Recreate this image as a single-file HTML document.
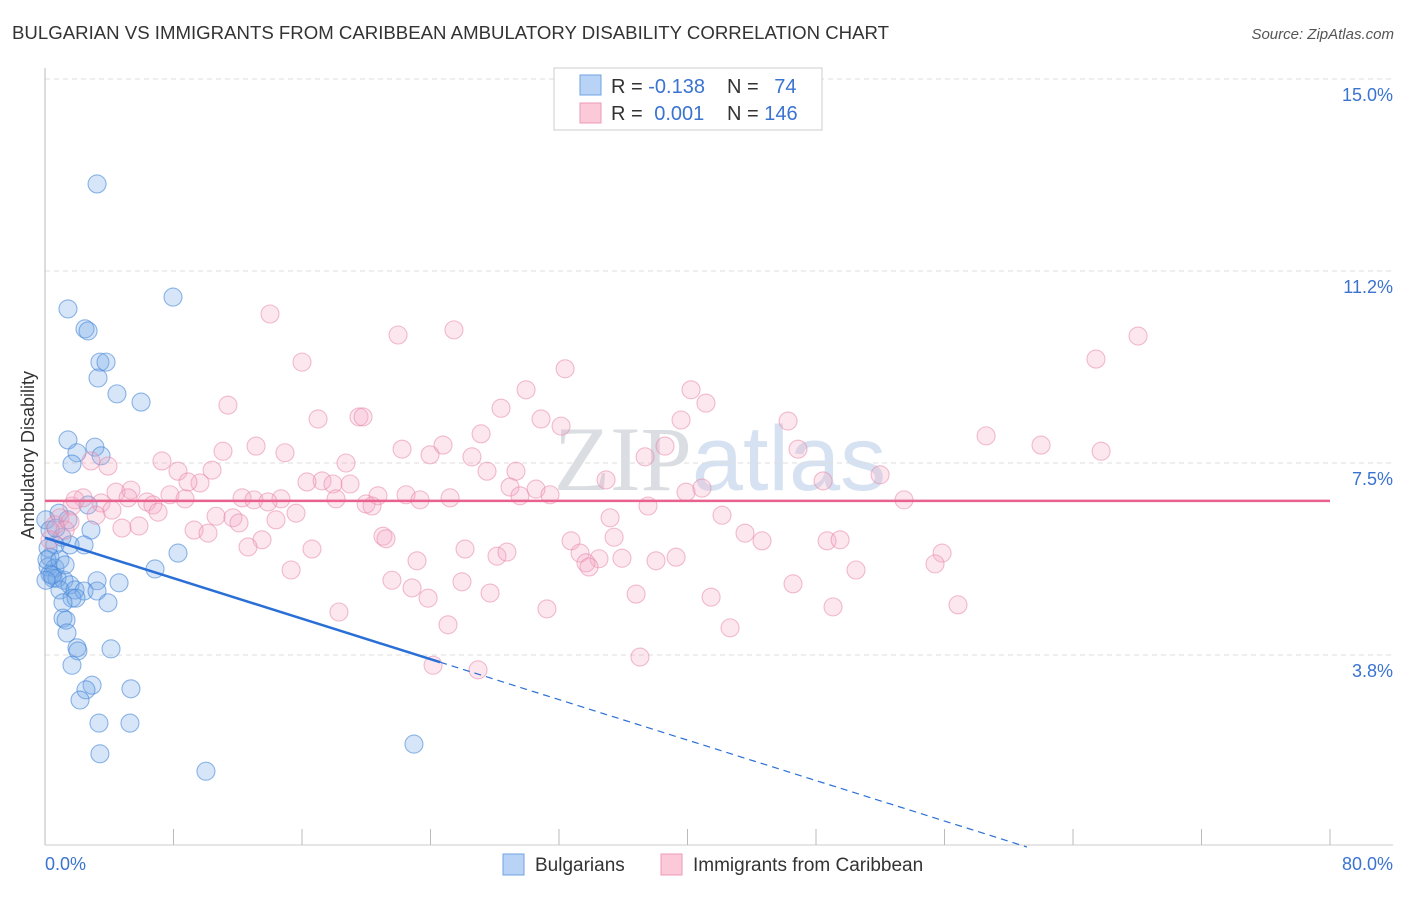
<!DOCTYPE html>
<html><head><meta charset="utf-8"><style>
body{margin:0;background:#fff;font-family:"Liberation Sans",sans-serif;}
svg text{font-family:"Liberation Sans",sans-serif;}
</style></head><body>
<svg id="chart" width="1406" height="892" xmlns="http://www.w3.org/2000/svg">
<text x="12" y="39" font-size="18" fill="#333" textLength="877" lengthAdjust="spacingAndGlyphs">BULGARIAN VS IMMIGRANTS FROM CARIBBEAN AMBULATORY DISABILITY CORRELATION CHART</text>
<text x="1394" y="39" font-size="15" fill="#555" font-style="italic" text-anchor="end">Source: ZipAtlas.com</text>
<text x="720" y="490" font-size="92" text-anchor="middle" fill="#e4e7ec"><tspan font-family="Liberation Serif" fill="#dadde2">ZIP</tspan><tspan fill="#d6e2f2">atlas</tspan></text>
<g id="grid"></g>
<g id="axes"></g>
<g id="blue"></g>
<g id="pink"></g>
<g id="trends"></g>
<text transform="translate(34,455) rotate(-90)" font-size="18" fill="#333" text-anchor="middle">Ambulatory Disability</text>
<g>
<rect x="554" y="68" width="268" height="62" fill="#fff" stroke="#ccc"/>
<rect x="580" y="75" width="21" height="20" fill="#b8d3f5" stroke="#6fa3e3"/>
<rect x="580" y="103" width="21" height="20" fill="#fbc9d8" stroke="#ee9ab5"/>
<text x="611" y="93" font-size="20" fill="#333">R = <tspan fill="#3a73d0">-0.138</tspan></text>
<text x="727" y="93" font-size="20" fill="#333">N = <tspan fill="#3a73d0" dx="10">74</tspan></text>
<text x="611" y="120" font-size="20" fill="#333">R = <tspan fill="#3a73d0" dx="6">0.001</tspan></text>
<text x="727" y="120" font-size="20" fill="#333">N = <tspan fill="#3a73d0">146</tspan></text>
</g>
<g>
<rect x="503" y="854" width="21" height="21" fill="#b8d3f5" stroke="#6fa3e3"/>
<text x="535" y="871" font-size="19" fill="#333">Bulgarians</text>
<rect x="661" y="854" width="21" height="21" fill="#fbc9d8" stroke="#ee9ab5"/>
<text x="693" y="871" font-size="19" fill="#333">Immigrants from Caribbean</text>
</g>
</svg>
<script>
const yTicks=[3.75,7.5,11.25,15];
const yTickLabels=["3.8%","7.5%","11.2%","15.0%"];
const xTickLabels=["0.0%","80.0%"];
const blueX=[3.24,7.97,1.43,2.49,2.68,3.42,3.80,3.30,4.48,5.98,1.43,3.11,1.99,3.49,1.68,0.87,1.43,2.68,2.86,1.06,0.62,1.56,2.43,0.19,0.31,8.28,0.19,0.62,0.31,0.50,0.75,1.18,1.56,6.85,3.24,4.61,0.93,1.87,2.43,3.24,1.68,1.93,1.12,3.92,1.12,1.31,1.37,1.99,2.05,1.68,4.11,2.93,2.55,5.35,2.18,3.36,5.29,3.42,10.02,22.97,0.05,0.31,0.68,0.12,0.44,0.06,0.93,1.25];
const blueY=[12.95,10.74,10.51,10.12,10.08,9.47,9.47,9.16,8.85,8.69,7.95,7.81,7.70,7.64,7.48,6.52,6.39,6.68,6.19,6.05,5.90,5.90,5.90,5.84,5.66,5.74,5.47,5.45,5.33,5.25,5.25,5.21,5.12,5.43,5.20,5.16,5.02,5.02,5.00,5.00,4.86,4.86,4.77,4.77,4.47,4.43,4.18,3.89,3.83,3.55,3.87,3.16,3.07,3.09,2.87,2.42,2.42,1.82,1.48,2.01,6.39,6.19,6.23,5.61,5.31,5.21,5.61,5.51];
const pinkX=[14.01,25.46,21.98,68.05,65.43,16.00,32.38,29.95,40.22,11.39,41.15,28.39,19.55,17.00,19.80,30.88,39.60,46.26,32.13,27.15,58.59,62.01,65.75,24.78,13.14,11.08,14.94,22.23,38.60,46.88,23.97,2.86,3.92,7.28,18.74,26.58,37.36,8.28,10.40,27.52,29.32,34.93,51.99,9.65,8.90,17.25,17.93,16.31,18.99,28.95,30.57,48.44,4.42,5.35,6.35,7.78,8.72,12.27,13.01,14.69,20.73,22.48,25.22,29.57,31.44,39.91,40.90,53.48,2.37,3.49,5.17,6.72,7.04,10.65,11.70,13.88,15.63,18.12,19.99,20.36,23.35,37.54,42.15,14.38,3.18,4.17,1.68,4.79,5.85,9.28,10.15,12.08,35.18,43.58,44.64,32.75,21.04,21.23,13.51,12.64,16.62,26.15,33.31,34.49,35.43,48.69,49.50,55.85,39.29,38.04,33.68,33.87,28.14,28.76,23.16,15.32,55.41,50.49,35.92,21.60,25.96,22.85,27.71,23.85,36.80,41.47,46.57,18.30,31.25,49.06,56.84,25.09,42.65,37.04,24.16,26.96,0.93,1.56,0.62,1.25,1.87,0.31];
const pinkY=[10.41,10.10,10.00,9.98,9.53,9.47,9.34,8.93,8.93,8.63,8.67,8.57,8.40,8.36,8.40,8.36,8.34,8.32,8.22,8.07,8.03,7.85,7.73,7.85,7.83,7.73,7.70,7.77,7.83,7.77,7.66,7.54,7.44,7.54,7.50,7.62,7.62,7.34,7.36,7.34,7.34,7.17,7.27,7.11,7.13,7.15,7.09,7.13,7.09,7.03,6.99,7.15,6.93,6.97,6.74,6.88,6.80,6.82,6.78,6.80,6.86,6.88,6.82,6.86,6.88,6.93,7.01,6.78,6.82,6.72,6.82,6.68,6.54,6.46,6.43,6.74,6.52,6.80,6.70,6.66,6.78,6.66,6.48,6.39,6.48,6.58,6.66,6.23,6.27,6.19,6.13,6.33,6.43,6.13,5.98,5.98,6.07,6.02,6.00,5.86,5.82,5.82,5.74,5.63,6.05,5.98,6.00,5.74,5.66,5.59,5.55,5.47,5.68,5.76,5.59,5.41,5.53,5.41,5.64,5.21,5.18,5.06,4.96,4.86,4.94,4.88,5.14,4.59,4.65,4.69,4.73,4.34,4.28,3.71,3.55,3.46,6.43,6.35,6.29,6.19,6.78,6.00];
const blueTrend=[6.04,-0.0988];
const pinkTrend=[6.76,0.0];
const NS="http://www.w3.org/2000/svg";
const X0=45,X1=1330,Y0=847;
function xs(v){return X0+v/80*(X1-X0);}
function ys(v){return Y0-v*51.2;}
function mk(tag,attrs,parent){const e=document.createElementNS(NS,tag);for(const k in attrs)e.setAttribute(k,attrs[k]);parent.appendChild(e);return e;}
const grid=document.getElementById('grid'),axes=document.getElementById('axes');
yTicks.forEach((t,i)=>{
  const l=mk('line',{x1:X0,x2:1393,y1:ys(t),y2:ys(t),stroke:'#ddd','stroke-dasharray':'5,4'},grid);
  
  
  const tx=mk('text',{x:1393,y:ys(t)+22,'font-size':18,fill:'#3a73d0','text-anchor':'end'},axes);
  tx.textContent=yTickLabels[i];
  
  
});
const ax=mk('line',{x1:X0,x2:X0,y1:68,y2:845,stroke:'#bbb'},axes);


const bx=mk('line',{x1:X0,x2:1393,y1:845,y2:845,stroke:'#ccc'},axes);


for(let i=0;i<=10;i++){const v=i*8;
  const t=mk('line',{x1:xs(v),x2:xs(v),y1:829,y2:845,stroke:'#bbb'},axes);
  
  }
const xl0=mk('text',{x:45,y:870,'font-size':18,fill:'#3a73d0'},axes);xl0.textContent=xTickLabels[0];


const xl1=mk('text',{x:1393,y:870,'font-size':18,fill:'#3a73d0','text-anchor':'end'},axes);xl1.textContent=xTickLabels[1];


const pg=document.getElementById('pink');
pinkX.forEach((x,i)=>{const c=mk('circle',{cx:xs(x),cy:ys(pinkY[i]),r:9,fill:'rgba(246,170,196,0.28)',stroke:'rgba(232,135,168,0.55)','stroke-width':1.1},pg);

});
const bg=document.getElementById('blue');
blueX.forEach((x,i)=>{const c=mk('circle',{cx:xs(x),cy:ys(blueY[i]),r:9,fill:'rgba(120,170,232,0.3)',stroke:'rgba(70,135,215,0.6)','stroke-width':1.1},bg);

});
const tg=document.getElementById('trends');
const bf=v=>blueTrend[0]+blueTrend[1]*v;
const pl=mk('line',{x1:xs(0),x2:xs(80),y1:ys(pinkTrend[0]),y2:ys(pinkTrend[0]+pinkTrend[1]*80),stroke:'#e8628d','stroke-width':2.5},tg);


const b1=mk('line',{x1:xs(0),x2:xs(24.6),y1:ys(bf(0)),y2:ys(bf(24.6)),stroke:'#2a6fd6','stroke-width':2.5},tg);


const xe=-blueTrend[0]/blueTrend[1];
const xEnd=Math.min(80,xe);
const b2=mk('line',{x1:xs(24.6),x2:xs(xEnd),y1:ys(bf(24.6)),y2:ys(Math.max(0,bf(xEnd))),stroke:'#2a6fd6','stroke-width':1.2,'stroke-dasharray':'7,5'},tg);


</script>
</body></html>
